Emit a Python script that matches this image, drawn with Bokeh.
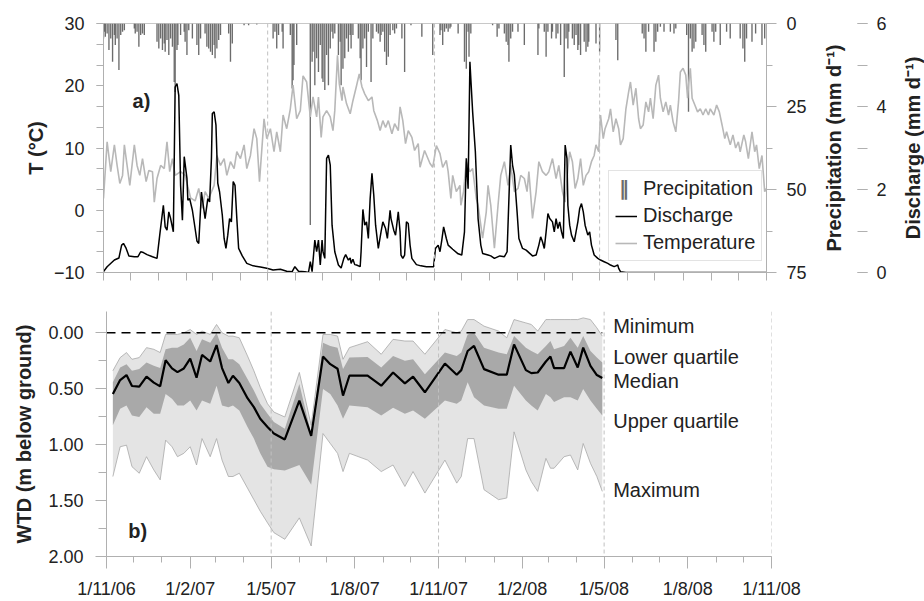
import pandas as pd
from bokeh.plotting import figure
from bokeh.core.properties import value
from bokeh.models import (Range1d, LinearAxis, FixedTicker, SingleIntervalTicker, Span,
                          Legend, LegendItem, Label, ColumnDataSource, NumeralTickFormatter)
from bokeh.layouts import column, row
from bokeh.embed import file_html
from bokeh.resources import INLINE

# ---------------- data (days counted from 1 Nov 2006) ----------------
START = pd.Timestamp("2006-11-01")
END = pd.Timestamp("2008-11-01")

temp_days = [0, 4, 8, 12, 15, 18, 21, 23, 26, 29,
             34, 37, 40, 43, 47, 50, 54, 56, 59, 63,
             67, 70, 73, 76, 79, 85, 90, 96, 101, 105,
             109, 112, 116, 122, 125, 129, 133, 136, 140, 144,
             147, 151, 155, 158, 162, 166, 169, 172, 177, 180,
             184, 188, 191, 195, 198, 202, 206, 209, 213, 217,
             220, 224, 228, 231, 235, 237, 240, 242, 246, 250,
             253, 255, 258, 260, 263, 264, 268, 272, 275, 279,
             282, 285, 288, 292, 296, 298, 302, 305, 308, 311,
             314, 318, 321, 325, 327, 330, 333, 336, 340, 343,
             347, 349, 354, 360, 363, 367, 371, 374, 378, 380,
             383, 385, 389, 393, 394, 397, 400, 404, 407, 411,
             413, 416, 418, 422, 424, 427, 431, 435, 438, 442,
             446, 449, 453, 457, 460, 464, 467, 469, 473, 477,
             480, 484, 488, 491, 495, 499, 502, 506, 509, 512,
             514, 517, 520, 523, 526, 529, 532, 535, 538, 541,
             543, 546, 548, 551, 553, 557, 559, 562, 565, 568,
             570, 573, 576, 579, 581, 584, 587, 590, 592, 595,
             598, 601, 603, 606, 609, 612, 614, 617, 620, 623,
             625, 628, 631, 634, 636, 639, 642, 644, 645, 647,
             649, 652, 655, 658, 661, 664, 667, 669, 673, 676,
             679, 682, 685, 687, 691, 694, 697, 700, 702, 706,
             708, 711, 715, 718, 720, 723, 726, 729, 731]
temperature = [1.9, 11.0, 6.2, 10.5, 7.2, 4.3, 5.6, 10.5, 7.2, 4.0,
               10.5, 7.2, 5.6, 8.3, 4.6, 6.4, 6.2, 1.3, 5.1, 7.2,
               6.7, 11.0, 6.2, 8.3, 5.6, 6.2, 5.6, 2.0, 1.5, 3.5,
               0.3, 3.0, 1.9, 4.0, 8.8, 7.2, 8.3, 5.6, 7.8, 6.7,
               9.4, 8.3, 10.5, 6.7, 8.8, 13.1, 11.5, 4.6, 14.7, 11.5,
               13.1, 9.4, 12.6, 9.4, 15.3, 13.1, 16.3, 20.1, 14.7, 16.0,
               21.6, 20.6, 15.0, 18.2, 15.0, 18.2, 11.7, 15.0, 16.0, 15.0,
               12.8, 16.0, 24.9, 20.3, 17.6, 19.8, 17.1, 15.5, 17.6, 20.0,
               21.9, 19.8, 18.7, 17.6, 18.2, 16.0, 14.4, 12.8, 14.4, 13.3,
               14.4, 12.3, 13.9, 12.8, 16.6, 14.4, 10.7, 12.8, 11.7, 9.6,
               10.7, 6.9, 9.6, 7.5, 6.9, 10.4, 9.1, 6.9, 8.0, 6.2,
               1.9, 5.6, 3.0, 4.0, 0.8, 3.0, 7.8, 6.2, 6.7, 1.9,
               0.8, -2.4, -4.5, -0.3, 4.0, 0.8, -6.1, 0.8, 5.6, 7.8,
               4.0, 7.2, 3.0, 3.5, 5.6, 5.1, 3.0, 6.2, -1.3, 3.0,
               7.8, 6.2, 5.6, 6.2, 8.3, 5.1, 7.2, 3.0, 1.3, 6.7,
               9.4, 7.8, 3.5, 5.1, 8.3, 4.0, 5.6, 6.2, 7.8, 8.8,
               10.5, 9.4, 15.3, 11.5, 13.1, 14.7, 16.3, 12.6, 14.7, 13.1,
               10.5, 11.5, 16.3, 19.0, 20.6, 16.9, 19.6, 14.7, 13.1, 13.7,
               17.4, 15.8, 18.0, 14.7, 20.1, 21.7, 18.0, 15.8, 17.4, 15.3,
               16.9, 14.2, 12.6, 17.4, 22.2, 22.8, 21.7, 18.0, 20.1, 22.8,
               18.0, 16.9, 15.8, 16.3, 15.3, 16.3, 15.3, 16.3, 15.3, 16.9,
               15.8, 13.7, 11.5, 12.6, 10.5, 12.1, 10.0, 11.0, 9.4, 12.1,
               11.0, 8.3, 12.6, 9.4, 10.5, 6.7, 8.8, 3.0, 3.5]

q_days = [0, 4, 12, 17, 20, 22, 25, 28, 34, 38,
          41, 44, 48, 54, 59, 62, 66, 68, 70, 72,
          74, 77, 79, 81, 83, 85, 87, 89, 92, 93,
          95, 98, 101, 103, 105, 108, 110, 112, 115, 117,
          119, 120, 122, 124, 126, 128, 131, 133, 135, 137,
          139, 141, 143, 145, 147, 149, 153, 158, 165, 173,
          180, 187, 195, 202, 208, 211, 215, 222, 226, 228,
          230, 233, 235, 237, 239, 241, 242, 244, 246, 248,
          250, 252, 255, 259, 262, 265, 267, 270, 272, 273,
          275, 277, 279, 283, 284, 286, 288, 290, 292, 294,
          296, 298, 300, 303, 306, 308, 311, 313, 316, 317,
          320, 322, 325, 327, 328, 330, 332, 334, 336, 338,
          340, 345, 350, 356, 361, 364, 366, 369, 371, 373,
          375, 378, 380, 385, 391, 395, 398, 400, 402, 404,
          405, 407, 410, 413, 416, 418, 424, 427, 431, 437,
          442, 445, 447, 449, 451, 453, 456, 458, 462, 466,
          469, 473, 477, 480, 482, 484, 486, 488, 490, 492,
          495, 497, 499, 501, 503, 505, 507, 509, 511, 512,
          514, 516, 519, 521, 523, 525, 527, 529, 531, 534,
          536, 538, 541, 545, 548, 552, 556, 559, 563, 565,
          567, 568, 570, 576, 731]
discharge = [0.02, 0.14, 0.30, 0.35, 0.66, 0.70, 0.58, 0.40, 0.38, 0.38,
             0.50, 0.48, 0.43, 0.38, 0.34, 0.90, 1.62, 1.10, 1.02, 1.46,
             1.30, 0.98, 4.47, 4.55, 4.27, 2.10, 1.26, 2.79, 2.27, 1.74,
             1.78, 1.50, 1.06, 0.76, 0.70, 1.94, 1.62, 1.30, 1.78, 1.70,
             2.75, 3.83, 3.87, 3.55, 2.15, 1.94, 1.38, 0.82, 0.58, 0.90,
             1.30, 1.22, 2.19, 2.10, 1.30, 0.58, 0.40, 0.22, 0.16, 0.13,
             0.10, 0.06, 0.08, 0.03, 0.02, 0.14, 0.03, 0.02, 0.0, 0.26,
             0.02, 0.78, 0.50, 0.78, 0.18, 0.78, 0.50, 0.34, 2.75, 2.83,
             2.59, 1.14, 0.50, 0.18, 0.11, 0.34, 0.43, 0.30, 0.35, 0.22,
             0.32, 0.19, 0.18, 0.14, 0.50, 1.52, 1.14, 1.22, 0.82, 1.78,
             2.39, 1.86, 1.14, 0.58, 0.98, 1.22, 1.06, 0.82, 1.50, 1.30,
             1.02, 0.90, 1.46, 0.98, 0.42, 0.34, 0.42, 1.22, 1.18, 0.66,
             0.34, 0.19, 0.16, 0.14, 0.14, 0.14, 0.58, 0.66, 0.50, 0.78,
             1.10, 0.82, 0.66, 0.56, 0.45, 0.42, 0.98, 2.75, 2.02, 5.08,
             4.67, 3.87, 2.91, 1.30, 0.66, 0.46, 0.42, 0.40, 0.34, 0.40,
             0.38, 0.50, 1.78, 3.07, 2.59, 2.35, 1.46, 0.82, 0.58, 0.54,
             0.48, 0.40, 0.42, 0.66, 0.86, 0.74, 0.58, 0.98, 1.42, 1.30,
             1.22, 0.98, 1.30, 1.06, 1.22, 0.98, 0.82, 3.07, 2.75, 1.62,
             1.14, 0.90, 0.74, 0.98, 1.22, 1.54, 1.66, 1.46, 1.14, 0.90,
             0.98, 0.66, 0.42, 0.34, 0.30, 0.26, 0.22, 0.18, 0.14, 0.16,
             0.18, 0.10, 0.02, 0.0, 0.0]

precip_days = [0, 1, 2, 4, 6, 8, 10, 12, 13, 15,
               17, 19, 21, 23, 34, 35, 37, 39, 41, 43,
               45, 59, 61, 63, 65, 67, 68, 70, 72, 74,
               76, 78, 79, 81, 82, 85, 89, 90, 92, 94,
               98, 103, 105, 107, 112, 114, 116, 118, 120, 122,
               123, 125, 127, 129, 138, 140, 142, 155, 160, 169,
               187, 189, 191, 193, 197, 198, 206, 208, 209, 210,
               213, 228, 230, 231, 233, 235, 237, 239, 241, 242,
               244, 246, 248, 250, 252, 253, 255, 259, 261, 262,
               264, 266, 268, 270, 272, 273, 275, 281, 283, 284,
               286, 288, 290, 292, 295, 297, 301, 303, 305, 306,
               308, 310, 312, 314, 316, 319, 321, 323, 329, 332,
               339, 351, 363, 371, 372, 374, 376, 378, 380, 382,
               383, 391, 398, 400, 402, 403, 405, 429, 434, 436,
               442, 444, 446, 447, 449, 451, 457, 464, 479, 480,
               486, 488, 490, 494, 495, 499, 501, 504, 508, 510,
               512, 513, 517, 519, 521, 523, 524, 526, 530, 532,
               534, 535, 543, 547, 565, 567, 594, 596, 598, 601,
               607, 609, 611, 614, 618, 625, 629, 631, 643, 645,
               647, 649, 651, 653, 660, 662, 664, 671, 673, 675,
               680, 687, 691, 702, 705, 707, 709, 715, 719, 726,
               729]
precipitation = [4.5, 2.5, 4.0, 3.0, 8.0, 4.5, 11.5, 3.5, 6.5, 4.5,
                 14.0, 3.5, 2.5, 2.0, 1.5, 3.0, 2.5, 7.0, 3.5, 3.0,
                 3.5, 5.5, 7.5, 4.5, 8.0, 6.0, 8.5, 5.0, 9.5, 4.5,
                 7.0, 17.6, 20.6, 8.0, 6.5, 3.5, 2.5, 5.5, 9.5, 2.0,
                 4.5, 6.5, 9.5, 4.5, 3.0, 7.0, 7.5, 8.5, 9.5, 6.5,
                 10.5, 7.5, 5.0, 3.5, 3.0, 11.5, 6.0, 0.5, 0.5, 0.3,
                 4.5, 2.5, 7.5, 3.5, 2.5, 7.5, 3.5, 19.6, 17.1, 12.5,
                 6.5, 60.7, 11.5, 8.5, 18.6, 10.5, 14.6, 6.5, 16.6, 17.6,
                 20.0, 9.5, 18.6, 7.5, 2.5, 4.5, 3.0, 9.5, 5.5, 18.6,
                 13.6, 10.5, 4.5, 8.5, 3.5, 7.5, 3.5, 4.5, 10.5, 17.1,
                 7.5, 4.5, 13.1, 2.5, 17.6, 4.5, 2.5, 3.0, 5.5, 3.5,
                 2.5, 8.5, 12.5, 10.0, 3.5, 2.0, 3.0, 1.5, 4.5, 14.6,
                 0.5, 4.0, 9.5, 3.5, 2.0, 6.5, 2.5, 1.5, 2.5, 1.5,
                 1.0, 3.0, 11.5, 13.6, 2.5, 10.0, 3.0, 0.5, 4.0, 1.5,
                 3.0, 5.5, 6.5, 11.5, 4.5, 2.5, 2.5, 6.5, 9.5, 1.5,
                 2.5, 10.0, 2.5, 4.5, 2.5, 4.5, 3.0, 6.5, 16.1, 4.5,
                 7.5, 2.5, 4.5, 6.5, 3.5, 8.0, 6.5, 9.5, 5.5, 8.5,
                 7.0, 5.5, 6.0, 8.5, 5.0, 11.1, 3.0, 4.5, 8.5, 2.5,
                 8.5, 5.5, 2.5, 1.0, 2.5, 2.5, 3.0, 1.5, 3.5, 26.6,
                 4.5, 8.5, 7.5, 5.5, 3.5, 6.5, 8.5, 2.5, 5.5, 2.5,
                 6.5, 2.5, 4.5, 4.5, 7.5, 11.5, 4.5, 5.5, 3.0, 6.5,
                 4.5]

wtd_days = [7, 15, 22, 28, 36, 44, 52, 59, 65, 72,
            78, 85, 92, 99, 105, 114, 121, 127, 134, 139,
            146, 155, 162, 169, 177, 184, 196, 212, 225, 238,
            246, 254, 260, 267, 287, 302, 315, 328, 337, 350,
            372, 385, 390, 397, 404, 415, 431, 440, 448, 461,
            467, 474, 483, 488, 492, 503, 510, 518, 524, 532,
            539, 545]
wtd_median = [0.547, 0.423, 0.378, 0.476, 0.482, 0.393, 0.446, 0.479, 0.245, 0.319,
              0.352, 0.319, 0.231, 0.402, 0.198, 0.257, 0.110, 0.316, 0.449, 0.384,
              0.449, 0.585, 0.665, 0.768, 0.842, 0.901, 0.954, 0.606, 0.922, 0.213,
              0.281, 0.322, 0.562, 0.384, 0.384, 0.473, 0.355, 0.452, 0.393, 0.532,
              0.275, 0.375, 0.334, 0.163, 0.118, 0.325, 0.375, 0.375, 0.104, 0.334,
              0.361, 0.355, 0.257, 0.213, 0.316, 0.316, 0.169, 0.310, 0.133, 0.296,
              0.378, 0.405]
wtd_min = [0.340, 0.222, 0.177, 0.237, 0.222, 0.133, 0.148, 0.177, 0.015, 0.015,
           0.015, 0.0, -0.029, 0.015, -0.015, 0.015, -0.074, 0.0, 0.030, 0.030,
           0.045, 0.207, 0.340, 0.488, 0.635, 0.709, 0.753, 0.355, 0.827, 0.015,
           0.015, 0.030, 0.237, 0.133, 0.080, 0.192, 0.059, 0.074, 0.074, 0.192,
           -0.029, 0.0, -0.015, -0.118, -0.118, -0.059, -0.015, 0.045, -0.118, -0.088,
           -0.074, -0.015, -0.118, -0.118, -0.118, -0.118, -0.118, -0.118, -0.133, -0.118,
           -0.044, 0.030]
wtd_lower_q = [0.443, 0.310, 0.281, 0.340, 0.325, 0.266, 0.296, 0.316, 0.148, 0.133,
               0.133, 0.104, 0.045, 0.163, 0.059, 0.089, 0.0, 0.133, 0.237, 0.237,
               0.281, 0.414, 0.517, 0.635, 0.724, 0.798, 0.857, 0.458, 0.901, 0.089,
               0.118, 0.133, 0.325, 0.222, 0.216, 0.310, 0.207, 0.251, 0.237, 0.370,
               0.177, 0.207, 0.177, 0.015, 0.0, 0.133, 0.177, 0.192, 0.030, 0.133,
               0.163, 0.192, 0.118, 0.074, 0.148, 0.118, 0.045, 0.133, 0.030, 0.163,
               0.222, 0.266]
wtd_upper_q = [0.827, 0.680, 0.650, 0.739, 0.753, 0.665, 0.724, 0.724, 0.547, 0.591,
               0.650, 0.650, 0.606, 0.694, 0.606, 0.635, 0.473, 0.650, 0.665, 0.650,
               0.694, 0.842, 0.946, 1.078, 1.197, 1.220, 1.232, 1.182, 1.359, 0.502,
               0.547, 0.650, 0.768, 0.650, 0.665, 0.739, 0.671, 0.724, 0.694, 0.768,
               0.606, 0.635, 0.606, 0.443, 0.576, 0.650, 0.680, 0.680, 0.473, 0.606,
               0.650, 0.694, 0.547, 0.576, 0.620, 0.576, 0.576, 0.606, 0.502, 0.606,
               0.680, 0.739]
wtd_max = [1.285, 1.019, 1.005, 1.197, 1.256, 1.108, 1.226, 1.315, 0.960, 1.019,
           1.108, 1.078, 1.019, 1.182, 0.946, 1.108, 0.946, 1.138, 1.285, 1.285,
           1.256, 1.389, 1.492, 1.595, 1.699, 1.787, 1.846, 1.655, 1.906, 0.901,
           0.990, 1.078, 1.241, 1.078, 1.138, 1.241, 1.182, 1.374, 1.241, 1.433,
           1.138, 1.344, 1.285, 0.946, 0.946, 1.403, 1.492, 1.477, 0.886, 1.226,
           1.330, 1.418, 1.123, 1.211, 1.211, 1.108, 1.093, 1.226, 0.990, 1.167,
           1.285, 1.418]

guide_dates = ["2007-05-01", "2007-11-01", "2008-05-01"]

# ---------------- helpers ----------------
FONT = "Liberation Sans"
TXT = "#222222"
AX = "#b0b0b0"
DAY_MS = 86400000


def to_dates(days):
    return [START + pd.Timedelta(days=d) for d in days]


def ms(ts):
    return float(pd.Timestamp(ts).value // 10**6)


months = pd.date_range(START, END, freq="MS")
minor_x = [ms(t) for t in months]
major_x = [ms(t) for t in months if t.month in (2, 5, 8, 11)]
x_labels = {ms(t): f"{t.day}/{t.month}/{t.strftime('%y')}" for t in months if t.month in (2, 5, 8, 11)}


def style_axis(ax, tick_out=8, minor_out=5):
    ax.axis_line_color = AX
    ax.major_tick_line_color = AX
    ax.minor_tick_line_color = AX
    ax.major_tick_in = 0
    ax.minor_tick_in = 0
    ax.major_tick_out = tick_out
    ax.minor_tick_out = minor_out
    ax.major_label_text_font = FONT
    ax.major_label_text_font_size = "18px"
    ax.major_label_text_color = TXT
    ax.axis_label_text_font = FONT
    ax.axis_label_text_font_size = "20px"
    ax.axis_label_text_font_style = "bold"
    ax.axis_label_text_color = TXT


def title_strip(width, title, standoff):
    """A slim figure whose left axis carries only a rotated title (reads bottom-to-top)."""
    f = figure(width=width, height=290, x_range=Range1d(0, 1), y_range=Range1d(0, 1),
               output_backend="svg", toolbar_location=None,
               min_border_left=width - 1, min_border_right=0,
               min_border_top=23, min_border_bottom=18)
    f.xaxis.visible = False
    f.xgrid.visible = False
    f.ygrid.visible = False
    f.outline_line_color = None
    a = f.yaxis[0]
    a.ticker = FixedTicker(ticks=[])
    style_axis(a, 0, 0)
    a.axis_line_color = None
    a.major_label_standoff = 0
    a.axis_label = title
    a.axis_label_standoff = standoff
    return f


# ---------------- top panel ----------------
p1 = figure(width=809, height=290, x_axis_type="datetime",
            x_range=Range1d(START, END), y_range=Range1d(-10, 30),
            output_backend="svg", toolbar_location=None,
            min_border_left=103, min_border_right=41, min_border_top=23, min_border_bottom=18)
p1.xgrid.visible = False
p1.ygrid.visible = False
p1.outline_line_color = "#c8c8c8"
p1.extra_y_ranges = {"precip": Range1d(75, 0), "q": Range1d(0, 6)}

psrc = ColumnDataSource(dict(x=to_dates(precip_days), p=precipitation))
p1.vbar(x="x", top=0, bottom="p", width=1.5 * DAY_MS, source=psrc,
        y_range_name="precip", fill_color="#6c6c6c", line_color=None)
r_t = p1.line(to_dates(temp_days), temperature, line_color="#b8b8b8", line_width=1.6)
r_q = p1.line(to_dates(q_days), discharge, y_range_name="q", line_color="black", line_width=1.5)
r_pleg = p1.scatter(x=[], y=[], marker="dash", size=14, line_color="#6c6c6c", line_width=3)

# precipitation legend icon (the legend box is transparent so it shows through)
p1.text(x=[pd.Timestamp("2008-05-28")], y=[3.5], text=["\u2016"],
        text_font=value("DejaVu Sans"), text_font_size="20px", text_color="#6c6c6c",
        text_font_style="bold", text_align="center", text_baseline="middle")

for g in guide_dates:
    p1.add_layout(Span(location=ms(g), dimension="height", line_color="#c0c0c0",
                       line_dash="4 3", line_width=1))

ya = p1.yaxis[0]
ya.ticker = SingleIntervalTicker(interval=10, num_minor_ticks=3)
ya.axis_label = "T (°C)"
style_axis(ya, 7, 7)
ya.major_label_standoff = 12
ya.axis_label_standoff = 4

xa = p1.xaxis[0]
xa.ticker = FixedTicker(ticks=[], minor_ticks=minor_x)
style_axis(xa, 8, 8)

ax_p = LinearAxis(y_range_name="precip",
                  ticker=SingleIntervalTicker(interval=25, num_minor_ticks=2))
style_axis(ax_p, 10, 6)
ax_p.major_label_standoff = 10
p1.add_layout(ax_p, "right")

legend = Legend(items=[LegendItem(label="Precipitation", renderers=[r_pleg]),
                       LegendItem(label="Discharge", renderers=[r_q]),
                       LegendItem(label="Temperature", renderers=[r_t])],
                location=(505, 11))
legend.border_line_color = "#c8c8c8"
legend.background_fill_alpha = 0.0
legend.label_text_font = FONT
legend.label_text_font_size = "20px"
legend.label_text_color = TXT
legend.glyph_width = 22
legend.glyph_height = 22
legend.label_height = 22
legend.spacing = 4
legend.padding = 6
legend.margin = 0
legend.label_standoff = 6
p1.add_layout(legend)

p1.add_layout(Label(x=ms("2006-12-03"), y=17.6, text="a)", text_font=FONT,
                    text_font_size="20px", text_font_style="bold", text_color=TXT,
                    text_baseline="middle"))

# title strip for the precipitation axis
pt = title_strip(48, "Precipitation (mm d\u207b\u00b9)", 12)

# discharge axis in a slim strip
pq = figure(width=30, height=290, x_range=Range1d(0, 1), y_range=Range1d(0, 6),
            output_backend="svg", toolbar_location=None, y_axis_location="right",
            min_border_left=0, min_border_right=29, min_border_top=23, min_border_bottom=18)
pq.xaxis.visible = False
pq.xgrid.visible = False
pq.ygrid.visible = False
pq.outline_line_color = None
aq = pq.yaxis[0]
aq.ticker = SingleIntervalTicker(interval=2, num_minor_ticks=2)
style_axis(aq, 10, 10)
aq.axis_line_color = None
aq.major_label_standoff = 9

# title strip for the discharge axis
pt2 = title_strip(37, "Discharge (mm d\u207b\u00b9)", 0)

# ---------------- bottom panel ----------------
p2 = figure(width=924, height=311, x_axis_type="datetime",
            x_range=Range1d(START, END), y_range=Range1d(2.0, -0.19),
            output_backend="svg", toolbar_location=None,
            min_border_left=106, min_border_right=153, min_border_top=21, min_border_bottom=43)
p2.xgrid.visible = False
p2.ygrid.visible = False
p2.outline_line_color = None

wsrc = ColumnDataSource(dict(x=to_dates(wtd_days), mn=wtd_min, lq=wtd_lower_q,
                             md=wtd_median, uq=wtd_upper_q, mx=wtd_max))
p2.varea(x="x", y1="mn", y2="mx", source=wsrc, fill_color="#e4e4e4")
p2.line(x="x", y="mn", source=wsrc, line_color="#a8a8a8", line_width=0.8)
p2.line(x="x", y="mx", source=wsrc, line_color="#a8a8a8", line_width=0.8)
p2.varea(x="x", y1="lq", y2="uq", source=wsrc, fill_color="#a9a9a9")
p2.segment(x0=[START], y0=[0], x1=[to_dates(wtd_days)[-1]], y1=[0],
           line_color="black", line_width=1.6, line_dash="9 6")
p2.line(x="x", y="md", source=wsrc, line_color="black", line_width=2.2)

for g in guide_dates + ["2008-11-01"]:
    p2.add_layout(Span(location=ms(g), dimension="height", line_color="#c0c0c0",
                       line_dash="4 3", line_width=1))

yb = p2.yaxis[0]
yb.ticker = FixedTicker(ticks=[0, 0.5, 1.0, 1.5, 2.0], minor_ticks=[0.25, 0.75, 1.25, 1.75])
yb.formatter = NumeralTickFormatter(format="0.00")
yb.axis_label = "WTD (m below ground)"
style_axis(yb, 11, 8)
yb.major_label_standoff = 12
yb.axis_label_standoff = 10

xb = p2.xaxis[0]
xb.ticker = FixedTicker(ticks=major_x, minor_ticks=minor_x)
xb.major_label_overrides = x_labels
style_axis(xb, 12, 6)
xb.major_label_standoff = 10

p2.add_layout(Label(x=ms("2006-11-25"), y=1.77, text="b)", text_font=FONT,
                    text_font_size="20px", text_font_style="bold", text_color=TXT,
                    text_baseline="middle"))

stat_names = ["Minimum", "Lower quartile", "Median", "Upper quartile", "Maximum"]
stat_label_y = [-0.056, 0.219, 0.431, 0.786, 1.406]
for name, yy in zip(stat_names, stat_label_y):
    p2.add_layout(Label(x=ms("2008-05-11"), y=yy, text=name, text_font=FONT,
                        text_font_size="20px", text_color=TXT, text_baseline="middle"))

layout = column(row(p1, pt, pq, pt2), p2)
open("out.html", "w").write(file_html(layout, INLINE))
